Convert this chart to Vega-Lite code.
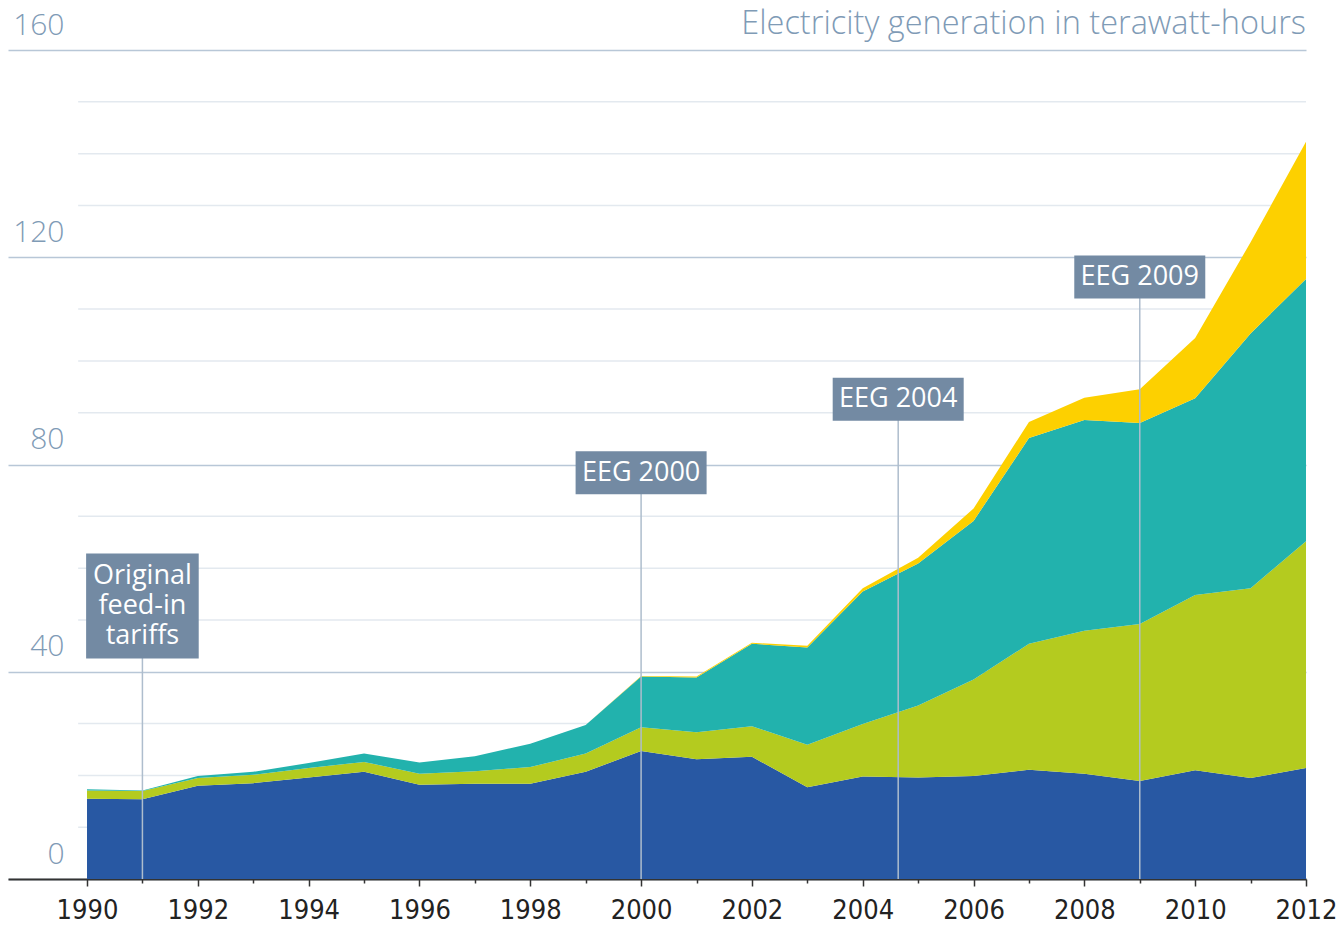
{
  "$schema": "https://vega.github.io/schema/vega-lite/v6.json",
  "width": 1298,
  "height": 829,
  "autosize": {"type": "none"},
  "padding": {"left": 8, "top": 50, "right": 38, "bottom": 48},
  "background": "#ffffff",
  "config": {"view": {"stroke": null}, "font": "Open Sans"},
  "datasets": {
    "gen": [
      {"year": 1990, "source": "Hydropower", "value": 15.5},
      {"year": 1991, "source": "Hydropower", "value": 15.4},
      {"year": 1992, "source": "Hydropower", "value": 18.0},
      {"year": 1993, "source": "Hydropower", "value": 18.5},
      {"year": 1994, "source": "Hydropower", "value": 19.6},
      {"year": 1995, "source": "Hydropower", "value": 20.7},
      {"year": 1996, "source": "Hydropower", "value": 18.2},
      {"year": 1997, "source": "Hydropower", "value": 18.4},
      {"year": 1998, "source": "Hydropower", "value": 18.4},
      {"year": 1999, "source": "Hydropower", "value": 20.7},
      {"year": 2000, "source": "Hydropower", "value": 24.7},
      {"year": 2001, "source": "Hydropower", "value": 23.1},
      {"year": 2002, "source": "Hydropower", "value": 23.6},
      {"year": 2003, "source": "Hydropower", "value": 17.7},
      {"year": 2004, "source": "Hydropower", "value": 19.8},
      {"year": 2005, "source": "Hydropower", "value": 19.6},
      {"year": 2006, "source": "Hydropower", "value": 19.9},
      {"year": 2007, "source": "Hydropower", "value": 21.1},
      {"year": 2008, "source": "Hydropower", "value": 20.3},
      {"year": 2009, "source": "Hydropower", "value": 18.9},
      {"year": 2010, "source": "Hydropower", "value": 21.0},
      {"year": 2011, "source": "Hydropower", "value": 19.5},
      {"year": 2012, "source": "Hydropower", "value": 21.4},
      {"year": 1990, "source": "Biomass", "value": 1.6},
      {"year": 1991, "source": "Biomass", "value": 1.6},
      {"year": 1992, "source": "Biomass", "value": 1.5},
      {"year": 1993, "source": "Biomass", "value": 1.6},
      {"year": 1994, "source": "Biomass", "value": 1.8},
      {"year": 1995, "source": "Biomass", "value": 1.9},
      {"year": 1996, "source": "Biomass", "value": 2.1},
      {"year": 1997, "source": "Biomass", "value": 2.4},
      {"year": 1998, "source": "Biomass", "value": 3.2},
      {"year": 1999, "source": "Biomass", "value": 3.5},
      {"year": 2000, "source": "Biomass", "value": 4.6},
      {"year": 2001, "source": "Biomass", "value": 5.2},
      {"year": 2002, "source": "Biomass", "value": 5.9},
      {"year": 2003, "source": "Biomass", "value": 8.2},
      {"year": 2004, "source": "Biomass", "value": 10.1},
      {"year": 2005, "source": "Biomass", "value": 13.9},
      {"year": 2006, "source": "Biomass", "value": 18.6},
      {"year": 2007, "source": "Biomass", "value": 24.3},
      {"year": 2008, "source": "Biomass", "value": 27.6},
      {"year": 2009, "source": "Biomass", "value": 30.3},
      {"year": 2010, "source": "Biomass", "value": 33.8},
      {"year": 2011, "source": "Biomass", "value": 36.6},
      {"year": 2012, "source": "Biomass", "value": 43.8},
      {"year": 1990, "source": "Wind", "value": 0.2},
      {"year": 1991, "source": "Wind", "value": 0.1},
      {"year": 1992, "source": "Wind", "value": 0.4},
      {"year": 1993, "source": "Wind", "value": 0.6},
      {"year": 1994, "source": "Wind", "value": 1.0},
      {"year": 1995, "source": "Wind", "value": 1.6},
      {"year": 1996, "source": "Wind", "value": 2.2},
      {"year": 1997, "source": "Wind", "value": 2.9},
      {"year": 1998, "source": "Wind", "value": 4.5},
      {"year": 1999, "source": "Wind", "value": 5.5},
      {"year": 2000, "source": "Wind", "value": 9.8},
      {"year": 2001, "source": "Wind", "value": 10.6},
      {"year": 2002, "source": "Wind", "value": 15.9},
      {"year": 2003, "source": "Wind", "value": 18.8},
      {"year": 2004, "source": "Wind", "value": 25.6},
      {"year": 2005, "source": "Wind", "value": 27.4},
      {"year": 2006, "source": "Wind", "value": 30.6},
      {"year": 2007, "source": "Wind", "value": 39.7},
      {"year": 2008, "source": "Wind", "value": 40.7},
      {"year": 2009, "source": "Wind", "value": 38.8},
      {"year": 2010, "source": "Wind", "value": 38.0},
      {"year": 2011, "source": "Wind", "value": 49.2},
      {"year": 2012, "source": "Wind", "value": 50.6},
      {"year": 1990, "source": "Photovoltaics", "value": 0},
      {"year": 1991, "source": "Photovoltaics", "value": 0},
      {"year": 1992, "source": "Photovoltaics", "value": 0},
      {"year": 1993, "source": "Photovoltaics", "value": 0},
      {"year": 1994, "source": "Photovoltaics", "value": 0},
      {"year": 1995, "source": "Photovoltaics", "value": 0},
      {"year": 1996, "source": "Photovoltaics", "value": 0},
      {"year": 1997, "source": "Photovoltaics", "value": 0},
      {"year": 1998, "source": "Photovoltaics", "value": 0},
      {"year": 1999, "source": "Photovoltaics", "value": 0},
      {"year": 2000, "source": "Photovoltaics", "value": 0.1},
      {"year": 2001, "source": "Photovoltaics", "value": 0.2},
      {"year": 2002, "source": "Photovoltaics", "value": 0.2},
      {"year": 2003, "source": "Photovoltaics", "value": 0.3},
      {"year": 2004, "source": "Photovoltaics", "value": 0.6},
      {"year": 2005, "source": "Photovoltaics", "value": 1.1},
      {"year": 2006, "source": "Photovoltaics", "value": 2.4},
      {"year": 2007, "source": "Photovoltaics", "value": 3.1},
      {"year": 2008, "source": "Photovoltaics", "value": 4.3},
      {"year": 2009, "source": "Photovoltaics", "value": 6.5},
      {"year": 2010, "source": "Photovoltaics", "value": 11.6},
      {"year": 2011, "source": "Photovoltaics", "value": 17.6},
      {"year": 2012, "source": "Photovoltaics", "value": 26.5}
    ],
    "minorGrid": [
      {"v": 10}, {"v": 20}, {"v": 30}, {"v": 50}, {"v": 60}, {"v": 70},
      {"v": 90}, {"v": 100}, {"v": 110}, {"v": 130}, {"v": 140}, {"v": 150}
    ],
    "events": [
      {"label": "Original\nfeed-in\ntariffs", "year": 1991, "boxY": 52.7},
      {"label": "EEG 2000", "year": 2000, "boxY": 78.4},
      {"label": "EEG 2004", "year": 2004.64, "boxY": 92.6},
      {"label": "EEG 2009", "year": 2009, "boxY": 116.2}
    ],
    "titleRow": [{"t": "Electricity generation in terawatt-hours"}]
  },
  "layer": [
    {
      "data": {"name": "minorGrid"},
      "mark": {"type": "rule", "color": "#e3e9ef", "strokeWidth": 1.5},
      "encoding": {
        "y": {"field": "v", "type": "quantitative", "title": null},
        "x": {"datum": 1989.84, "type": "quantitative"},
        "x2": {"datum": 2012}
      }
    },
    {
      "data": {"name": "gen"},
      "transform": [
        {"calculate": "indexof(['Hydropower','Biomass','Wind','Photovoltaics'], datum.source)", "as": "stackRank"}
      ],
      "mark": {"type": "area", "interpolate": "linear"},
      "encoding": {
        "x": {
          "field": "year", "type": "quantitative", "title": null,
          "scale": {"domain": [1988.574, 2012], "nice": false, "zero": false},
          "axis": {
            "values": [1990,1991,1992,1993,1994,1995,1996,1997,1998,1999,2000,2001,2002,2003,2004,2005,2006,2007,2008,2009,2010,2011,2012],
            "format": "d",
            "labelExpr": "datum.value % 2 === 0 ? datum.label : ''",
            "grid": false,
            "domainColor": "#333333", "domainWidth": 2,
            "tickColor": "#333333", "tickWidth": 1.5,
            "tickSize": {"condition": {"test": "datum.value % 2 === 0", "value": 7}, "value": 4},
            "labelFont": "DejaVu Sans Condensed, Roboto, sans-serif",
            "labelFontSize": 27, "labelColor": "#222222",
            "labelPadding": 11, "labelFlush": false, "labelOverlap": false, "labelBound": false
          }
        },
        "y": {
          "field": "value", "type": "quantitative", "stack": "zero", "title": null,
          "scale": {"domain": [0, 160], "nice": false},
          "axis": {
            "values": [0, 40, 80, 120, 160],
            "grid": true, "gridColor": "#b8c7d7", "gridWidth": 1.5,
            "domain": false, "ticks": false, "tickSize": 0,
            "labelAlign": "right", "labelBaseline": "alphabetic",
            "labelPadding": -56, "labelOffset": -16,
            "labelFont": "Open Sans", "labelFontWeight": 300,
            "labelFontSize": 30, "labelColor": "#7f9bb6"
          }
        },
        "color": {
          "field": "source", "type": "nominal",
          "scale": {
            "domain": ["Hydropower", "Biomass", "Wind", "Photovoltaics"],
            "range": ["#2858a3", "#b4cb1f", "#22b2ad", "#fdd000"]
          },
          "legend": null
        },
        "order": {"field": "stackRank", "type": "quantitative", "sort": "ascending"}
      }
    },
    {
      "data": {"name": "events"},
      "mark": {"type": "rule", "color": "#aebdcd", "strokeWidth": 1.5},
      "encoding": {
        "x": {"field": "year", "type": "quantitative", "title": null},
        "y": {"field": "boxY", "type": "quantitative", "title": null},
        "y2": {"datum": 0}
      }
    },
    {
      "data": {"name": "events"},
      "transform": [{"filter": "datum.year !== 1991"}],
      "mark": {"type": "point", "filled": true, "opacity": 1, "color": "#738aa3", "strokeWidth": 0,
               "shape": "M-1,-0.328L1,-0.328L1,0.328L-1,0.328Z", "size": 17161},
      "encoding": {
        "x": {"field": "year", "type": "quantitative", "title": null},
        "y": {"field": "boxY", "type": "quantitative", "title": null}
      }
    },
    {
      "data": {"name": "events"},
      "transform": [{"filter": "datum.year === 1991"}],
      "mark": {"type": "point", "filled": true, "opacity": 1, "color": "#738aa3", "strokeWidth": 0,
               "shape": "M-1,-0.9325L1,-0.9325L1,0.9325L-1,0.9325Z", "size": 12679},
      "encoding": {
        "x": {"field": "year", "type": "quantitative", "title": null},
        "y": {"field": "boxY", "type": "quantitative", "title": null}
      }
    },
    {
      "data": {"name": "events"},
      "transform": [{"filter": "datum.year !== 1991"}],
      "mark": {"type": "text", "align": "center", "baseline": "middle", "color": "#ffffff",
               "font": "Open Sans", "fontSize": 27},
      "encoding": {
        "x": {"field": "year", "type": "quantitative", "title": null},
        "y": {"field": "boxY", "type": "quantitative", "title": null},
        "text": {"field": "label"}
      }
    },
    {
      "data": {"name": "events"},
      "transform": [{"filter": "datum.year === 1991"}],
      "mark": {"type": "text", "align": "center", "baseline": "middle", "color": "#ffffff",
               "font": "Open Sans", "fontSize": 27, "lineBreak": "\n", "lineHeight": 30, "dy": -30},
      "encoding": {
        "x": {"field": "year", "type": "quantitative", "title": null},
        "y": {"field": "boxY", "type": "quantitative", "title": null},
        "text": {"field": "label"}
      }
    },
    {
      "data": {"name": "titleRow"},
      "mark": {"type": "text", "align": "right", "baseline": "alphabetic", "dy": -16,
               "font": "Open Sans", "fontWeight": 300, "fontSize": 32.5, "color": "#7f9bb6"},
      "encoding": {
        "x": {"datum": 2012, "type": "quantitative"},
        "y": {"datum": 160, "type": "quantitative"},
        "text": {"field": "t"}
      }
    }
  ]
}
